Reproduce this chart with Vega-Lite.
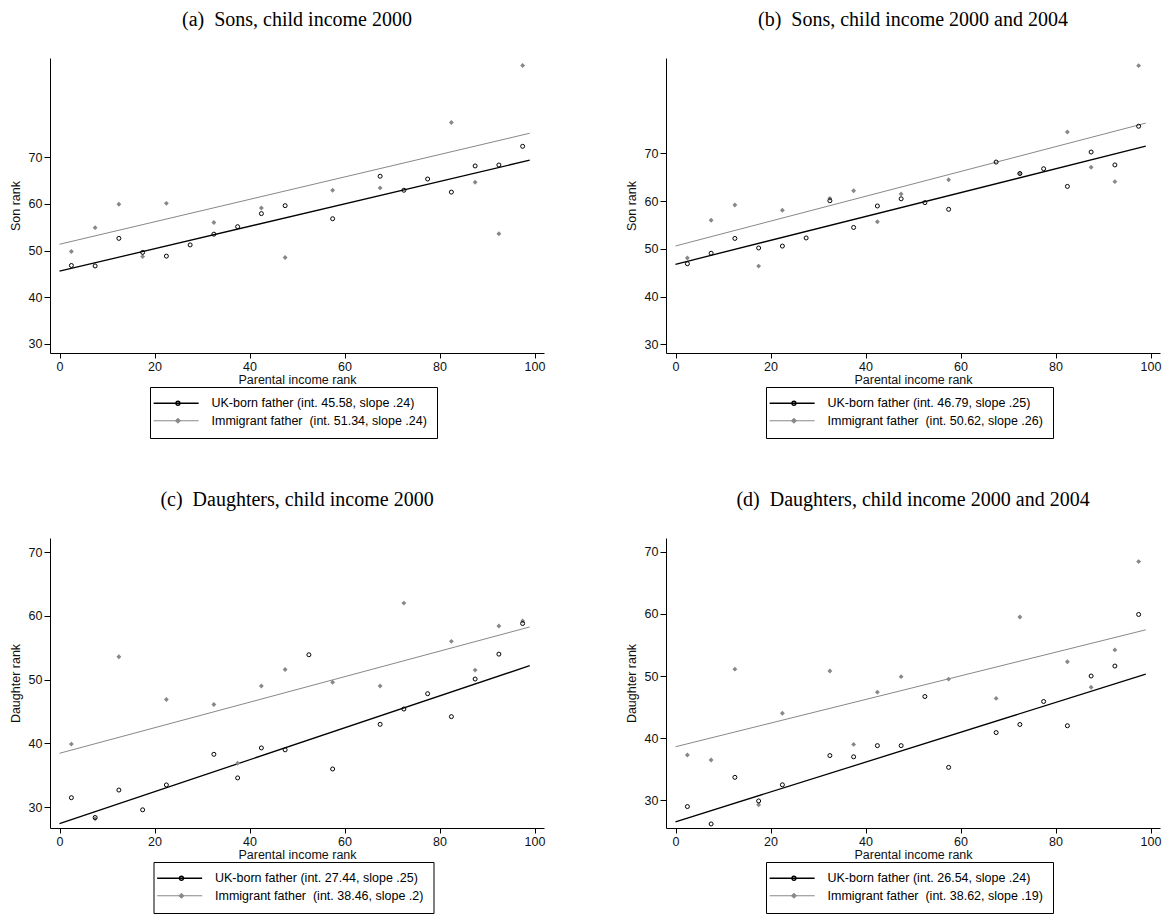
{
  "$schema": "https://vega.github.io/schema/vega-lite/v6.json",
  "background": "white",
  "padding": {"left": 9, "top": 10, "right": 5, "bottom": 0},
  "config": {
    "font": "Liberation Sans",
    "view": {"stroke": null},
    "axis": {"domainColor": "black", "tickColor": "black", "labelColor": "#111111", "titleColor": "#111111", "labelFontSize": 12.5, "titleFontSize": 12.5, "titleFontWeight": "normal", "grid": false, "tickSize": 5, "labelPadding": 2, "domainWidth": 1, "tickWidth": 1, "labelFont": "Liberation Sans", "titleFont": "Liberation Sans"},
    "axisX": {"titlePadding": 1, "labelFlush": false},
    "axisY": {"titlePadding": 6, "tickSize": 6},
    "title": {"font": "Liberation Serif", "fontSize": 20, "fontWeight": "normal", "color": "black", "anchor": "middle", "offset": 28},
    "legend": {"orient": "none", "direction": "vertical", "padding": 10, "strokeColor": "black", "labelFont": "Liberation Sans", "labelFontSize": 12.5, "labelColor": "black", "labelOffset": 39, "symbolSize": 100, "rowPadding": 4.5, "labelLimit": 400}
  },
  "datasets": {
    "rows": [
      {"p":"a","g":"UK","k":"fit","x":0,"y":45.58},{"p":"a","g":"UK","k":"fit","x":99,"y":69.34},
      {"p":"a","g":"Imm","k":"fit","x":0,"y":51.34},{"p":"a","g":"Imm","k":"fit","x":99,"y":75.10},
      {"p":"b","g":"UK","k":"fit","x":0,"y":46.79},{"p":"b","g":"UK","k":"fit","x":99,"y":71.54},
      {"p":"b","g":"Imm","k":"fit","x":0,"y":50.62},{"p":"b","g":"Imm","k":"fit","x":99,"y":76.36},
      {"p":"c","g":"UK","k":"fit","x":0,"y":27.44},{"p":"c","g":"UK","k":"fit","x":99,"y":52.19},
      {"p":"c","g":"Imm","k":"fit","x":0,"y":38.46},{"p":"c","g":"Imm","k":"fit","x":99,"y":58.26},
      {"p":"d","g":"UK","k":"fit","x":0,"y":26.54},{"p":"d","g":"UK","k":"fit","x":99,"y":50.30},
      {"p":"d","g":"Imm","k":"fit","x":0,"y":38.62},{"p":"d","g":"Imm","k":"fit","x":99,"y":57.43},

      {"p":"a","g":"UK","k":"pt","x":2.5,"y":46.8},{"p":"a","g":"UK","k":"pt","x":7.5,"y":46.7},{"p":"a","g":"UK","k":"pt","x":12.5,"y":52.6},{"p":"a","g":"UK","k":"pt","x":17.5,"y":49.6},{"p":"a","g":"UK","k":"pt","x":22.5,"y":48.8},{"p":"a","g":"UK","k":"pt","x":27.5,"y":51.2},{"p":"a","g":"UK","k":"pt","x":32.5,"y":53.5},{"p":"a","g":"UK","k":"pt","x":37.5,"y":55.1},{"p":"a","g":"UK","k":"pt","x":42.5,"y":57.9},{"p":"a","g":"UK","k":"pt","x":47.5,"y":59.6},{"p":"a","g":"UK","k":"pt","x":57.5,"y":56.8},{"p":"a","g":"UK","k":"pt","x":67.5,"y":65.9},{"p":"a","g":"UK","k":"pt","x":72.5,"y":62.9},{"p":"a","g":"UK","k":"pt","x":77.5,"y":65.3},{"p":"a","g":"UK","k":"pt","x":82.5,"y":62.5},{"p":"a","g":"UK","k":"pt","x":87.5,"y":68.1},{"p":"a","g":"UK","k":"pt","x":92.5,"y":68.3},{"p":"a","g":"UK","k":"pt","x":97.5,"y":72.3},
      {"p":"a","g":"Imm","k":"pt","x":2.5,"y":49.8},{"p":"a","g":"Imm","k":"pt","x":7.5,"y":54.9},{"p":"a","g":"Imm","k":"pt","x":12.5,"y":59.9},{"p":"a","g":"Imm","k":"pt","x":17.5,"y":48.7},{"p":"a","g":"Imm","k":"pt","x":22.5,"y":60.1},{"p":"a","g":"Imm","k":"pt","x":32.5,"y":56.0},{"p":"a","g":"Imm","k":"pt","x":42.5,"y":59.1},{"p":"a","g":"Imm","k":"pt","x":47.5,"y":48.5},{"p":"a","g":"Imm","k":"pt","x":57.5,"y":62.9},{"p":"a","g":"Imm","k":"pt","x":67.5,"y":63.4},{"p":"a","g":"Imm","k":"pt","x":82.5,"y":77.4},{"p":"a","g":"Imm","k":"pt","x":87.5,"y":64.6},{"p":"a","g":"Imm","k":"pt","x":92.5,"y":53.6},{"p":"a","g":"Imm","k":"pt","x":97.5,"y":89.6},

      {"p":"b","g":"UK","k":"pt","x":2.5,"y":46.9},{"p":"b","g":"UK","k":"pt","x":7.5,"y":49.1},{"p":"b","g":"UK","k":"pt","x":12.5,"y":52.2},{"p":"b","g":"UK","k":"pt","x":17.5,"y":50.2},{"p":"b","g":"UK","k":"pt","x":22.5,"y":50.6},{"p":"b","g":"UK","k":"pt","x":27.5,"y":52.3},{"p":"b","g":"UK","k":"pt","x":32.5,"y":60.1},{"p":"b","g":"UK","k":"pt","x":37.5,"y":54.5},{"p":"b","g":"UK","k":"pt","x":42.5,"y":59.0},{"p":"b","g":"UK","k":"pt","x":47.5,"y":60.5},{"p":"b","g":"UK","k":"pt","x":52.5,"y":59.7},{"p":"b","g":"UK","k":"pt","x":57.5,"y":58.3},{"p":"b","g":"UK","k":"pt","x":67.5,"y":68.2},{"p":"b","g":"UK","k":"pt","x":72.5,"y":65.8},{"p":"b","g":"UK","k":"pt","x":77.5,"y":66.8},{"p":"b","g":"UK","k":"pt","x":82.5,"y":63.1},{"p":"b","g":"UK","k":"pt","x":87.5,"y":70.3},{"p":"b","g":"UK","k":"pt","x":92.5,"y":67.6},{"p":"b","g":"UK","k":"pt","x":97.5,"y":75.7},
      {"p":"b","g":"Imm","k":"pt","x":2.5,"y":48.1},{"p":"b","g":"Imm","k":"pt","x":7.5,"y":56.0},{"p":"b","g":"Imm","k":"pt","x":12.5,"y":59.2},{"p":"b","g":"Imm","k":"pt","x":17.5,"y":46.4},{"p":"b","g":"Imm","k":"pt","x":22.5,"y":58.1},{"p":"b","g":"Imm","k":"pt","x":32.5,"y":60.6},{"p":"b","g":"Imm","k":"pt","x":37.5,"y":62.2},{"p":"b","g":"Imm","k":"pt","x":42.5,"y":55.7},{"p":"b","g":"Imm","k":"pt","x":47.5,"y":61.5},{"p":"b","g":"Imm","k":"pt","x":57.5,"y":64.5},{"p":"b","g":"Imm","k":"pt","x":72.5,"y":65.8},{"p":"b","g":"Imm","k":"pt","x":82.5,"y":74.5},{"p":"b","g":"Imm","k":"pt","x":87.5,"y":67.1},{"p":"b","g":"Imm","k":"pt","x":92.5,"y":64.1},{"p":"b","g":"Imm","k":"pt","x":97.5,"y":88.4},

      {"p":"c","g":"UK","k":"pt","x":2.5,"y":31.5},{"p":"c","g":"UK","k":"pt","x":7.5,"y":28.4},{"p":"c","g":"UK","k":"pt","x":12.5,"y":32.7},{"p":"c","g":"UK","k":"pt","x":17.5,"y":29.6},{"p":"c","g":"UK","k":"pt","x":22.5,"y":33.5},{"p":"c","g":"UK","k":"pt","x":32.5,"y":38.3},{"p":"c","g":"UK","k":"pt","x":37.5,"y":34.6},{"p":"c","g":"UK","k":"pt","x":42.5,"y":39.3},{"p":"c","g":"UK","k":"pt","x":47.5,"y":39.0},{"p":"c","g":"UK","k":"pt","x":52.5,"y":53.9},{"p":"c","g":"UK","k":"pt","x":57.5,"y":36.0},{"p":"c","g":"UK","k":"pt","x":67.5,"y":43.0},{"p":"c","g":"UK","k":"pt","x":72.5,"y":45.4},{"p":"c","g":"UK","k":"pt","x":77.5,"y":47.8},{"p":"c","g":"UK","k":"pt","x":82.5,"y":44.2},{"p":"c","g":"UK","k":"pt","x":87.5,"y":50.1},{"p":"c","g":"UK","k":"pt","x":92.5,"y":54.0},{"p":"c","g":"UK","k":"pt","x":97.5,"y":58.8},
      {"p":"c","g":"Imm","k":"pt","x":2.5,"y":39.9},{"p":"c","g":"Imm","k":"pt","x":7.5,"y":28.2},{"p":"c","g":"Imm","k":"pt","x":12.5,"y":53.6},{"p":"c","g":"Imm","k":"pt","x":22.5,"y":46.9},{"p":"c","g":"Imm","k":"pt","x":32.5,"y":46.1},{"p":"c","g":"Imm","k":"pt","x":37.5,"y":36.9},{"p":"c","g":"Imm","k":"pt","x":42.5,"y":49.0},{"p":"c","g":"Imm","k":"pt","x":47.5,"y":51.6},{"p":"c","g":"Imm","k":"pt","x":57.5,"y":49.6},{"p":"c","g":"Imm","k":"pt","x":67.5,"y":49.0},{"p":"c","g":"Imm","k":"pt","x":72.5,"y":62.0},{"p":"c","g":"Imm","k":"pt","x":82.5,"y":56.0},{"p":"c","g":"Imm","k":"pt","x":87.5,"y":51.5},{"p":"c","g":"Imm","k":"pt","x":92.5,"y":58.4},{"p":"c","g":"Imm","k":"pt","x":97.5,"y":59.2},

      {"p":"d","g":"UK","k":"pt","x":2.5,"y":29.0},{"p":"d","g":"UK","k":"pt","x":7.5,"y":26.2},{"p":"d","g":"UK","k":"pt","x":12.5,"y":33.7},{"p":"d","g":"UK","k":"pt","x":17.5,"y":29.9},{"p":"d","g":"UK","k":"pt","x":22.5,"y":32.5},{"p":"d","g":"UK","k":"pt","x":32.5,"y":37.2},{"p":"d","g":"UK","k":"pt","x":37.5,"y":37.0},{"p":"d","g":"UK","k":"pt","x":42.5,"y":38.8},{"p":"d","g":"UK","k":"pt","x":47.5,"y":38.8},{"p":"d","g":"UK","k":"pt","x":52.5,"y":46.7},{"p":"d","g":"UK","k":"pt","x":57.5,"y":35.3},{"p":"d","g":"UK","k":"pt","x":67.5,"y":40.9},{"p":"d","g":"UK","k":"pt","x":72.5,"y":42.2},{"p":"d","g":"UK","k":"pt","x":77.5,"y":45.9},{"p":"d","g":"UK","k":"pt","x":82.5,"y":42.0},{"p":"d","g":"UK","k":"pt","x":87.5,"y":50.0},{"p":"d","g":"UK","k":"pt","x":92.5,"y":51.6},{"p":"d","g":"UK","k":"pt","x":97.5,"y":59.9},
      {"p":"d","g":"Imm","k":"pt","x":2.5,"y":37.3},{"p":"d","g":"Imm","k":"pt","x":7.5,"y":36.5},{"p":"d","g":"Imm","k":"pt","x":12.5,"y":51.1},{"p":"d","g":"Imm","k":"pt","x":17.5,"y":29.3},{"p":"d","g":"Imm","k":"pt","x":22.5,"y":44.0},{"p":"d","g":"Imm","k":"pt","x":32.5,"y":50.8},{"p":"d","g":"Imm","k":"pt","x":37.5,"y":39.0},{"p":"d","g":"Imm","k":"pt","x":42.5,"y":47.4},{"p":"d","g":"Imm","k":"pt","x":47.5,"y":49.9},{"p":"d","g":"Imm","k":"pt","x":57.5,"y":49.5},{"p":"d","g":"Imm","k":"pt","x":67.5,"y":46.4},{"p":"d","g":"Imm","k":"pt","x":72.5,"y":59.5},{"p":"d","g":"Imm","k":"pt","x":82.5,"y":52.3},{"p":"d","g":"Imm","k":"pt","x":87.5,"y":48.2},{"p":"d","g":"Imm","k":"pt","x":92.5,"y":54.2},{"p":"d","g":"Imm","k":"pt","x":97.5,"y":68.4}
    ]
  },
  "resolve": {"scale": {"color": "independent", "strokeWidth": "independent"}, "legend": {"color": "independent"}},
  "spacing": 51,
  "vconcat": [
    {
      "spacing": 80,
      "resolve": {"scale": {"color": "independent", "strokeWidth": "independent"}, "legend": {"color": "independent"}},
      "hconcat": [
        {
          "width": 494, "height": 295,
          "title": {"text": "(a)\u00a0 Sons, child income 2000"},
          "data": {"name": "rows"},
          "transform": [{"filter": "datum.p == 'a'"}],
          "layer": [
            {"transform": [{"filter": "datum.k == 'fit'"}], "mark": {"type": "line"},
             "encoding": {
               "x": {"field": "x", "type": "quantitative", "scale": {"domain": [-2, 102], "nice": false, "zero": false}, "axis": {"values": [0, 20, 40, 60, 80, 100], "title": "Parental income rank"}},
               "y": {"field": "y", "type": "quantitative", "scale": {"domain": [28.07, 91.2], "nice": false, "zero": false}, "axis": {"values": [30, 40, 50, 60, 70], "title": "Son rank"}},
               "strokeWidth": {"field": "g", "type": "nominal", "scale": {"domain": ["UK", "Imm"], "range": [1.3, 1.0]}, "legend": null},
               "color": {"field": "g", "type": "nominal", "scale": {"domain": ["UK", "Imm"], "range": ["black", "#888888"]},
                 "legend": {"title": null, "legendX": 100, "legendY": 329,
                   "labelExpr": "datum.value == 'UK' ? 'UK-born father (int. 45.58, slope .24)' : 'Immigrant father\u00a0 (int. 51.34, slope .24)'",
                   "encode": {"symbols": {"update": {"shape": {"signal": "datum.value == 'UK' ? 'M-2.52,0H6.48M1.94,0A0.4,0.4,0,1,0,2.74,0A0.4,0.4,0,1,0,1.94,0' : 'M-2.52,0H6.48M2.34,-0.5L2.84,0L2.34,0.5L1.84,0Z'"}, "fill": {"signal": "datum.value == 'UK' ? 'white' : '#888888'"}, "strokeWidth": {"value": 1.1}}}}}}
             }},
            {"transform": [{"filter": "datum.k == 'pt' && datum.g == 'Imm'"}], "mark": {"type": "point", "shape": "diamond", "filled": true, "color": "#888888", "size": 24, "opacity": 1},
             "encoding": {"x": {"field": "x", "type": "quantitative"}, "y": {"field": "y", "type": "quantitative"}}},
            {"transform": [{"filter": "datum.k == 'pt' && datum.g == 'UK'"}], "mark": {"type": "point", "shape": "circle", "filled": false, "stroke": "black", "strokeWidth": 1, "size": 16, "opacity": 1},
             "encoding": {"x": {"field": "x", "type": "quantitative"}, "y": {"field": "y", "type": "quantitative"}}}
          ]
        },
        {
          "width": 494, "height": 295,
          "title": {"text": "(b)\u00a0 Sons, child income 2000 and 2004"},
          "data": {"name": "rows"},
          "transform": [{"filter": "datum.p == 'b'"}],
          "layer": [
            {"transform": [{"filter": "datum.k == 'fit'"}], "mark": {"type": "line"},
             "encoding": {
               "x": {"field": "x", "type": "quantitative", "scale": {"domain": [-2, 102], "nice": false, "zero": false}, "axis": {"values": [0, 20, 40, 60, 80, 100], "title": "Parental income rank"}},
               "y": {"field": "y", "type": "quantitative", "scale": {"domain": [28.2, 90.0], "nice": false, "zero": false}, "axis": {"values": [30, 40, 50, 60, 70], "title": "Son rank"}},
               "strokeWidth": {"field": "g", "type": "nominal", "scale": {"domain": ["UK", "Imm"], "range": [1.3, 1.0]}, "legend": null},
               "color": {"field": "g", "type": "nominal", "scale": {"domain": ["UK", "Imm"], "range": ["black", "#888888"]},
                 "legend": {"title": null, "legendX": 100, "legendY": 329,
                   "labelExpr": "datum.value == 'UK' ? 'UK-born father (int. 46.79, slope .25)' : 'Immigrant father\u00a0 (int. 50.62, slope .26)'",
                   "encode": {"symbols": {"update": {"shape": {"signal": "datum.value == 'UK' ? 'M-2.52,0H6.48M1.94,0A0.4,0.4,0,1,0,2.74,0A0.4,0.4,0,1,0,1.94,0' : 'M-2.52,0H6.48M2.34,-0.5L2.84,0L2.34,0.5L1.84,0Z'"}, "fill": {"signal": "datum.value == 'UK' ? 'white' : '#888888'"}, "strokeWidth": {"value": 1.1}}}}}}
             }},
            {"transform": [{"filter": "datum.k == 'pt' && datum.g == 'Imm'"}], "mark": {"type": "point", "shape": "diamond", "filled": true, "color": "#888888", "size": 24, "opacity": 1},
             "encoding": {"x": {"field": "x", "type": "quantitative"}, "y": {"field": "y", "type": "quantitative"}}},
            {"transform": [{"filter": "datum.k == 'pt' && datum.g == 'UK'"}], "mark": {"type": "point", "shape": "circle", "filled": false, "stroke": "black", "strokeWidth": 1, "size": 16, "opacity": 1},
             "encoding": {"x": {"field": "x", "type": "quantitative"}, "y": {"field": "y", "type": "quantitative"}}}
          ]
        }
      ]
    },
    {
      "spacing": 80,
      "resolve": {"scale": {"color": "independent", "strokeWidth": "independent"}, "legend": {"color": "independent"}},
      "hconcat": [
        {
          "width": 494, "height": 290,
          "title": {"text": "(c)\u00a0 Daughters, child income 2000"},
          "data": {"name": "rows"},
          "transform": [{"filter": "datum.p == 'c'"}],
          "layer": [
            {"transform": [{"filter": "datum.k == 'fit'"}], "mark": {"type": "line"},
             "encoding": {
               "x": {"field": "x", "type": "quantitative", "scale": {"domain": [-2, 102], "nice": false, "zero": false}, "axis": {"values": [0, 20, 40, 60, 80, 100], "title": "Parental income rank"}},
               "y": {"field": "y", "type": "quantitative", "scale": {"domain": [26.75, 72.2], "nice": false, "zero": false}, "axis": {"values": [30, 40, 50, 60, 70], "title": "Daughter rank"}},
               "strokeWidth": {"field": "g", "type": "nominal", "scale": {"domain": ["UK", "Imm"], "range": [1.3, 1.0]}, "legend": null},
               "color": {"field": "g", "type": "nominal", "scale": {"domain": ["UK", "Imm"], "range": ["black", "#888888"]},
                 "legend": {"title": null, "legendX": 103.5, "legendY": 324,
                   "labelExpr": "datum.value == 'UK' ? 'UK-born father (int. 27.44, slope .25)' : 'Immigrant father\u00a0 (int. 38.46, slope .2)'",
                   "encode": {"symbols": {"update": {"shape": {"signal": "datum.value == 'UK' ? 'M-2.52,0H6.48M1.94,0A0.4,0.4,0,1,0,2.74,0A0.4,0.4,0,1,0,1.94,0' : 'M-2.52,0H6.48M2.34,-0.5L2.84,0L2.34,0.5L1.84,0Z'"}, "fill": {"signal": "datum.value == 'UK' ? 'white' : '#888888'"}, "strokeWidth": {"value": 1.1}}}}}}
             }},
            {"transform": [{"filter": "datum.k == 'pt' && datum.g == 'Imm'"}], "mark": {"type": "point", "shape": "diamond", "filled": true, "color": "#888888", "size": 24, "opacity": 1},
             "encoding": {"x": {"field": "x", "type": "quantitative"}, "y": {"field": "y", "type": "quantitative"}}},
            {"transform": [{"filter": "datum.k == 'pt' && datum.g == 'UK'"}], "mark": {"type": "point", "shape": "circle", "filled": false, "stroke": "black", "strokeWidth": 1, "size": 16, "opacity": 1},
             "encoding": {"x": {"field": "x", "type": "quantitative"}, "y": {"field": "y", "type": "quantitative"}}}
          ]
        },
        {
          "width": 494, "height": 290,
          "title": {"text": "(d)\u00a0 Daughters, child income 2000 and 2004"},
          "data": {"name": "rows"},
          "transform": [{"filter": "datum.p == 'd'"}],
          "layer": [
            {"transform": [{"filter": "datum.k == 'fit'"}], "mark": {"type": "line"},
             "encoding": {
               "x": {"field": "x", "type": "quantitative", "scale": {"domain": [-2, 102], "nice": false, "zero": false}, "axis": {"values": [0, 20, 40, 60, 80, 100], "title": "Parental income rank"}},
               "y": {"field": "y", "type": "quantitative", "scale": {"domain": [25.55, 72.2], "nice": false, "zero": false}, "axis": {"values": [30, 40, 50, 60, 70], "title": "Daughter rank"}},
               "strokeWidth": {"field": "g", "type": "nominal", "scale": {"domain": ["UK", "Imm"], "range": [1.3, 1.0]}, "legend": null},
               "color": {"field": "g", "type": "nominal", "scale": {"domain": ["UK", "Imm"], "range": ["black", "#888888"]},
                 "legend": {"title": null, "legendX": 100, "legendY": 324,
                   "labelExpr": "datum.value == 'UK' ? 'UK-born father (int. 26.54, slope .24)' : 'Immigrant father\u00a0 (int. 38.62, slope .19)'",
                   "encode": {"symbols": {"update": {"shape": {"signal": "datum.value == 'UK' ? 'M-2.52,0H6.48M1.94,0A0.4,0.4,0,1,0,2.74,0A0.4,0.4,0,1,0,1.94,0' : 'M-2.52,0H6.48M2.34,-0.5L2.84,0L2.34,0.5L1.84,0Z'"}, "fill": {"signal": "datum.value == 'UK' ? 'white' : '#888888'"}, "strokeWidth": {"value": 1.1}}}}}}
             }},
            {"transform": [{"filter": "datum.k == 'pt' && datum.g == 'Imm'"}], "mark": {"type": "point", "shape": "diamond", "filled": true, "color": "#888888", "size": 24, "opacity": 1},
             "encoding": {"x": {"field": "x", "type": "quantitative"}, "y": {"field": "y", "type": "quantitative"}}},
            {"transform": [{"filter": "datum.k == 'pt' && datum.g == 'UK'"}], "mark": {"type": "point", "shape": "circle", "filled": false, "stroke": "black", "strokeWidth": 1, "size": 16, "opacity": 1},
             "encoding": {"x": {"field": "x", "type": "quantitative"}, "y": {"field": "y", "type": "quantitative"}}}
          ]
        }
      ]
    }
  ]
}
